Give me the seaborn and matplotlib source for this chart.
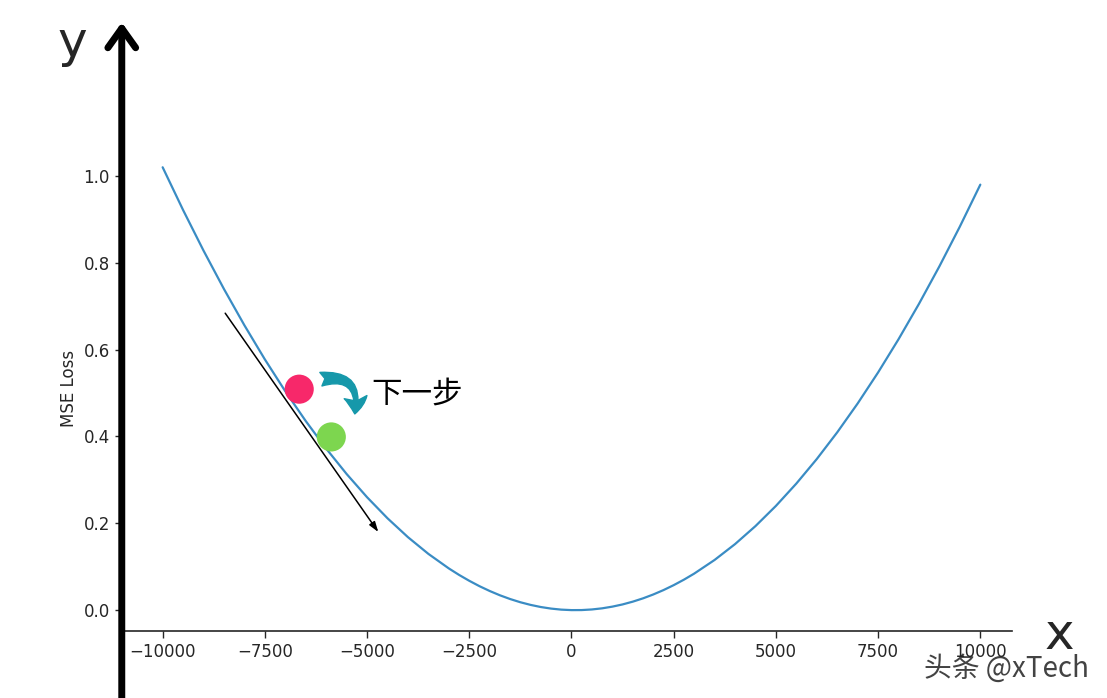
import matplotlib
matplotlib.use("Agg")
import matplotlib.pyplot as plt
import seaborn as sns
import pandas as pd

# curve (weight vs MSE loss)
weights = [-10000, -9500, -9000, -8500, -8000, -7500, -7000, -6500, -6000, -5500,
           -5000, -4500, -4000, -3500, -3000, -2750, -2500, -2250, -2000, -1750,
           -1500, -1250, -1000, -750, -500, -250, 0, 250, 500, 750,
           1000, 1250, 1500, 1750, 2000, 2250, 2500, 2750, 3000, 3500,
           4000, 4500, 5000, 5500, 6000, 6500, 7000, 7500, 8000, 8500,
           9000, 9500, 10000]
mse_loss = [1.0201, 0.9216, 0.8281, 0.7396, 0.6561, 0.5776, 0.5041, 0.4356, 0.3721, 0.3136,
            0.2601, 0.2116, 0.1681, 0.1296, 0.0961, 0.0812, 0.0676, 0.0552, 0.0441, 0.0342,
            0.0256, 0.0182, 0.0121, 0.0072, 0.0036, 0.0012, 0.0001, 0.0002, 0.0016, 0.0042,
            0.0081, 0.0132, 0.0196, 0.0272, 0.0361, 0.0462, 0.0576, 0.0702, 0.0841, 0.1156,
            0.1521, 0.1936, 0.2401, 0.2916, 0.3481, 0.4096, 0.4761, 0.5476, 0.6241, 0.7056,
            0.7921, 0.8836, 0.9801]

# current point and next point of gradient descent
step_x = [-6660, -5875]
step_loss = [0.509, 0.399]
step_colors = ["#f7286a", "#7dd64f"]

# tangent (gradient direction) arrow
tangent_x = [-8470, -4725]
tangent_loss = [0.684, 0.180]

# curved "next step" arrow and its label
hop_x = [-6130, -5300]
hop_loss = [0.532, 0.452]
label_x, label_loss = -4900, 0.498

x_ticks = [-10000, -7500, -5000, -2500, 0, 2500, 5000, 7500, 10000]
y_ticks = [0.0, 0.2, 0.4, 0.6, 0.8, 1.0]

df = pd.DataFrame({"w": weights, "loss": mse_loss})

sns.set_style("ticks")
plt.rcParams["font.family"] = ["DejaVu Sans", "Noto Sans CJK SC"]

fig = plt.figure(figsize=(11.07, 6.98), dpi=100)
ax = fig.add_axes([0.110, 0.096, 0.804, 0.696])

sns.lineplot(data=df, x="w", y="loss", ax=ax, color="#3a8cc4", linewidth=1.6)
sns.scatterplot(x=step_x, y=step_loss, ax=ax, hue=step_x, palette=step_colors,
                s=440, linewidth=0, legend=False, zorder=5)

# black tangent arrow
ax.annotate("", xy=(tangent_x[1], tangent_loss[1]), xytext=(tangent_x[0], tangent_loss[0]),
            arrowprops=dict(arrowstyle="-|>,head_length=0.6,head_width=0.2",
                            color="black", lw=1.1, mutation_scale=10, shrinkA=0, shrinkB=0))

# teal curved arrow
ax.annotate("", xy=(hop_x[1], hop_loss[1]), xytext=(hop_x[0], hop_loss[0]),
            arrowprops=dict(arrowstyle="fancy,head_length=0.55,head_width=0.75,tail_width=0.45",
                            connectionstyle="arc3,rad=-0.7", color="#1698aa",
                            mutation_scale=22, shrinkA=0, shrinkB=0))
ax.text(label_x, label_loss, "下一步", fontsize=22, va="center", ha="left",
        family=["Noto Sans CJK SC", "DejaVu Sans"], color="black")

ax.set_xlim(-11000, 10770)
ax.set_ylim(-0.048, 1.071)
ax.set_xticks(x_ticks)
ax.set_yticks(y_ticks)
ax.set_xlabel("")
ax.set_ylabel("MSE Loss", fontsize=12)
ax.tick_params(labelsize=12, length=5, width=1)
sns.despine(ax=ax)
ax.spines["bottom"].set_linewidth(1.2)

# thick y axis arrow over the whole figure height
ax.annotate("", xy=(0, 0.968), xytext=(0, -0.02),
            xycoords=("axes fraction", "figure fraction"),
            textcoords=("axes fraction", "figure fraction"),
            arrowprops=dict(arrowstyle="->,head_length=0.7,head_width=0.5", color="black",
                            lw=5, mutation_scale=20, shrinkA=0, shrinkB=0,
                            capstyle="round", joinstyle="round"),
            annotation_clip=False)

fig.text(0.065, 0.938, "y", fontsize=36, ha="center", va="center")
fig.text(0.957, 0.090, "x", fontsize=36, ha="center", va="center")

# watermark
fig.text(0.984, 0.042, "头条 @xTech", fontsize=20, ha="right", va="center",
         family=["Noto Sans CJK SC", "DejaVu Sans"], color="#222222", alpha=0.85)

fig.savefig("out.png", dpi=100)
